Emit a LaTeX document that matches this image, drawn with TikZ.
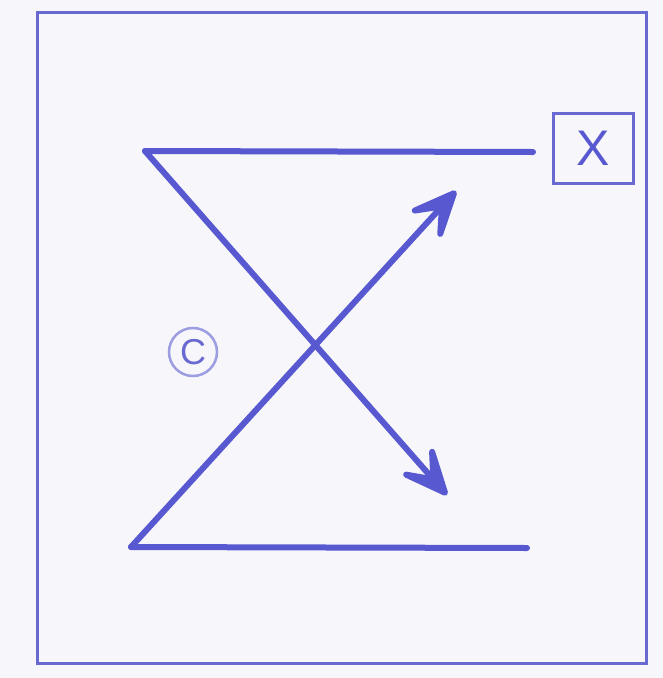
\documentclass[tikz,border=0pt]{standalone}
\usepackage{fontspec}
\setmainfont{Liberation Sans}
\usetikzlibrary{arrows.meta}
\definecolor{ink}{RGB}{88,88,208}
\definecolor{inklight}{RGB}{105,105,210}
\definecolor{paper}{RGB}{246,246,251}
\begin{document}
\begin{tikzpicture}[x=1pt,y=-1pt,
  thickline/.style={draw=ink,line width=6pt,line cap=round,line join=round},
  arrowline/.style={thickline,-{Stealth[length=66pt,width=58pt,inset=36pt,round]}},
  framebox/.style={draw=inklight,line width=3pt},
  xbox/.style={draw=inklight,line width=3pt,minimum width=80pt,minimum height=70pt,inner sep=0pt,text=ink,font=\fontsize{50}{50}\selectfont},
  cmark/.style={circle,draw=inklight!65,line width=2.5pt,minimum size=48pt,inner sep=0pt,text=inklight,font=\fontsize{36}{36}\selectfont}]
\fill[paper] (0,0) rectangle (663,678);
\useasboundingbox (0,0) rectangle (663,678);
\draw[framebox] (37,12) rectangle (646,663);
\coordinate (tl) at (145,151);
\coordinate (tr) at (533,152);
\coordinate (bl) at (131,547);
\coordinate (br) at (527,548);
\coordinate (a1) at (447,495);
\coordinate (a2) at (456,191);
\node[xbox] (x) at (593,148) {X};
\node[cmark] (c) at (193,352) {C};
\draw[thickline] (tl) -- (tr);
\draw[thickline] (bl) -- (br);
\draw[arrowline] (tl) -- (a1);
\draw[arrowline] (bl) -- (a2);
\end{tikzpicture}
\end{document}
